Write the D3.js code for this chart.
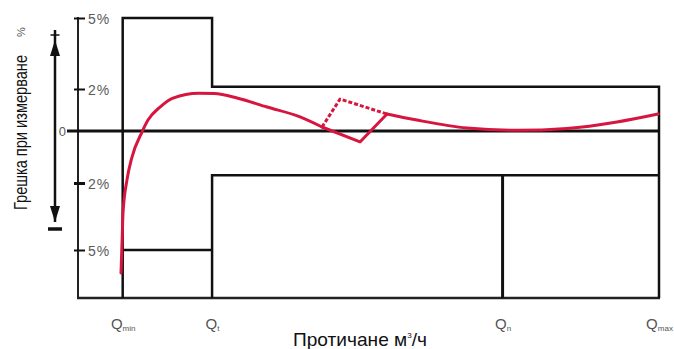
<!DOCTYPE html>
<html><head><meta charset="utf-8">
<script src="https://cdn.jsdelivr.net/npm/d3@7"></script>
<style>html,body{margin:0;padding:0;background:#fff;}svg{display:block;font-family:"Liberation Sans",Arial,sans-serif;}</style>
</head><body>
<svg id="c" width="674" height="349"></svg>
<script>
// ---- data ----
const flowLabels = [{q:"Q", sub:"min"}, {q:"Q", sub:"t"}, {q:"Q", sub:"n"}, {q:"Q", sub:"max"}];
const flowValues = [1, 3, 9.5, 13];               // relative flow positions (schematic)
const errTicks = [5, 2, -2, -5];
const errTickLabels = ["5%", "2%", "2%", "5%"];
const upperLimit = [5, 2.1];                       // Qmin..Qt , Qt..Qmax
const lowerLimit = [-5, -1.7];                     // Qmin..Qt , Qt..Qmax
// error curve (flow, error %)
const curveA = [[0.962,-5.96],[0.99,-4.4],[1.007,-3.34],[1.096,-1.88],[1.2,-1.05],[1.432,-0.04],[1.566,0.52],[1.835,1.14],[2.126,1.57],[2.7,1.8],[3.05,1.78],[3.558,1.57],[4.229,1.14],[4.968,0.67],[5.46,0.19]];
const diamondLow = [[5.46,0.19],[6.31,-0.42],[6.914,0.81]];
const diamondHigh = [[5.46,0.19],[5.863,1.52],[6.914,0.81]];
const curveB = [[6.914,0.81],[7.586,0.52],[8.704,0.14],[9.823,0.03],[10.94,0.12],[12.06,0.43],[12.98,0.81]];

// ---- scales ----
const x = d3.scaleLinear().domain([0, 13]).range([78, 659]);
const y = d3.scaleLinear().domain([5, 2, 0, -2, -5, -7]).range([18, 89, 131, 183, 250, 298]);

const svg = d3.select("#c");
const black = "#111";
const red = "#d7163f";

// axes lines
svg.append("line").attr("x1", x(0)).attr("x2", x(0)).attr("y1", y(5)-1).attr("y2", y(-7)+1)
  .attr("stroke", "#222").attr("stroke-width", 2);
svg.append("line").attr("x1", x(0)-1).attr("x2", x(13)+1).attr("y1", y(-7)).attr("y2", y(-7))
  .attr("stroke", "#222").attr("stroke-width", 2.5);

// y ticks via axis
const yAxis = d3.axisRight(y).tickValues(errTicks).tickSizeInner(11).tickSizeOuter(0).tickPadding(3)
  .tickFormat((d,i) => errTickLabels[i]);
const gy = svg.append("g").attr("transform", `translate(${x(0)-4},0)`).call(yAxis);
gy.select(".domain").remove();
gy.selectAll(".tick line").attr("stroke", "#111").attr("stroke-width", d => d === -2 ? 3 : 2);
gy.selectAll(".tick text").attr("fill", "#5a5a5a").attr("font-size", 14).attr("letter-spacing", 1)
  .attr("font-family", "Liberation Sans, Arial, sans-serif").attr("dy", "0.36em");

// zero label
svg.append("text").attr("x", x(0)-12).attr("y", y(0)).attr("dy", "0.36em").attr("text-anchor", "end")
  .attr("fill", "#5a5a5a").attr("font-size", 13).text("0");

// x axis labels via axis
const xAxis = d3.axisBottom(x).tickValues(flowValues).tickSize(0).tickPadding(0).tickFormat("");
const gx = svg.append("g").attr("transform", `translate(0,${y(-7)})`).call(xAxis);
gx.select(".domain").remove();
gx.selectAll(".tick").each(function(d, i) {
  const t = d3.select(this).select("text").text(null)
    .attr("y", 31).attr("dy", 0).attr("fill", "#555").attr("text-anchor", "middle")
    .attr("font-family", "Liberation Sans, Arial, sans-serif");
  t.append("tspan").attr("font-size", 15).text(flowLabels[i].q);
  t.append("tspan").attr("font-size", 8).attr("dy", 2).text(flowLabels[i].sub);
});

// envelope
const env = svg.append("g").attr("fill", "none").attr("stroke", black).attr("stroke-width", 2.5);
env.append("path").attr("d", d3.line()([
  [x(flowValues[0]), y(-7)], [x(flowValues[0]), y(upperLimit[0])], [x(flowValues[1]), y(upperLimit[0])],
  [x(flowValues[1]), y(upperLimit[1])], [x(flowValues[3]), y(upperLimit[1])], [x(flowValues[3]), y(-7)]
]));
env.append("path").attr("d", d3.line()([
  [x(flowValues[0]), y(lowerLimit[0])], [x(flowValues[1]), y(lowerLimit[0])]
]));
env.append("path").attr("d", d3.line()([
  [x(flowValues[1]), y(-7)], [x(flowValues[1]), y(lowerLimit[1])], [x(flowValues[3]), y(lowerLimit[1])]
]));
env.append("path").attr("stroke-width", 3).attr("d", d3.line()([
  [x(flowValues[2]), y(lowerLimit[1])], [x(flowValues[2]), y(-7)]
]));
// zero line
svg.append("line").attr("x1", x(0)-11).attr("x2", x(13)).attr("y1", y(0)).attr("y2", y(0))
  .attr("stroke", black).attr("stroke-width", 3);

// double arrow (+ / -)
const ax = x(0) - 23;
const aTop = y(5) + 22, aBot = y(-5) - 28;
const ar = svg.append("g").attr("fill", black).attr("stroke", black);
ar.append("line").attr("x1", ax).attr("x2", ax).attr("y1", aTop - 10).attr("y2", aBot).attr("stroke-width", 2.5);
ar.append("line").attr("x1", ax - 4.5).attr("x2", ax + 4.5).attr("y1", aTop - 5).attr("y2", aTop - 5).attr("stroke-width", 1.5);
ar.append("path").attr("stroke", "none").attr("d", `M${ax},${aTop} L${ax-5},${aTop+16} L${ax+5},${aTop+16} Z`);
ar.append("path").attr("stroke", "none").attr("d", `M${ax},${aBot} L${ax-5},${aBot-16} L${ax+5},${aBot-16} Z`);
ar.append("line").attr("x1", ax - 7).attr("x2", ax + 7).attr("y1", aBot + 7).attr("y2", aBot + 7).attr("stroke-width", 3.5);

// error curve
const line = d3.line().x(d => x(d[0])).y(d => y(d[1]));
const g = svg.append("g").attr("fill", "none").attr("stroke", red).attr("stroke-width", 3)
  .attr("stroke-linejoin", "round").attr("stroke-linecap", "round");
g.append("path").attr("d", line.curve(d3.curveMonotoneX)(curveA));
g.append("path").attr("d", line.curve(d3.curveMonotoneX)(curveB));
g.append("path").attr("d", line.curve(d3.curveLinear)(diamondLow));
g.append("path").attr("stroke-dasharray", "4,2").attr("stroke-linecap", "butt").attr("d", line.curve(d3.curveLinear)(diamondHigh));

// titles
svg.append("text").attr("transform", "translate(27,210) rotate(-90)")
  .attr("text-anchor", "start").attr("font-size", 19).attr("fill", "#111")
  .attr("textLength", 155).attr("lengthAdjust", "spacingAndGlyphs")
  .text("Грешка при измерване");
svg.append("text").attr("transform", "translate(25,37) rotate(-90)")
  .attr("text-anchor", "start").attr("font-size", 11).attr("fill", "#555").text("%");
const xt = svg.append("text").attr("x", 293).attr("y", 346).attr("font-size", 19).attr("fill", "#111")
  .attr("textLength", 134).attr("lengthAdjust", "spacingAndGlyphs");
xt.append("tspan").text("Протичане м");
xt.append("tspan").attr("font-size", 8).attr("dy", -8).text("3");
xt.append("tspan").attr("dy", 8).text("/ч");
</script>
</body></html>
